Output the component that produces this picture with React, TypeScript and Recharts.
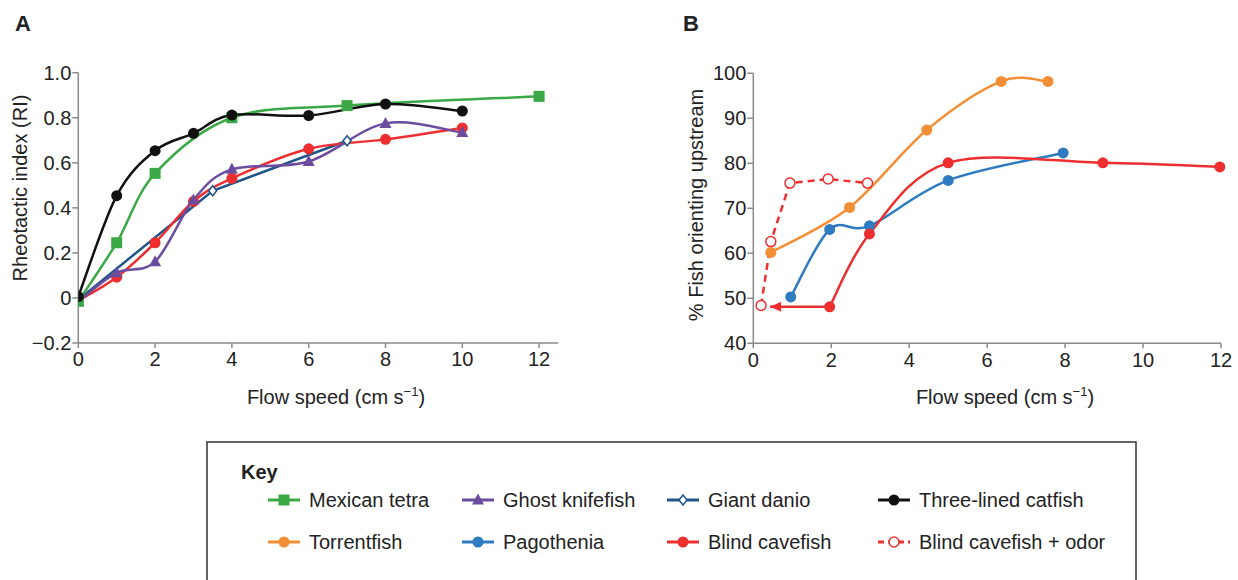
import React from 'react';
import { LineChart, Line, XAxis, YAxis } from 'recharts';

// ---------- Data ----------
// Panel A: Rheotactic index vs flow speed
const mexicanTetra = [
  { x: 0, y: -0.015 }, { x: 1, y: 0.245 }, { x: 2, y: 0.553 }, { x: 4, y: 0.80 },
  { x: 7, y: 0.854 }, { x: 12, y: 0.895 },
];
const ghostKnifefish = [
  { x: 0, y: -0.016 }, { x: 1, y: 0.112 }, { x: 2, y: 0.161 }, { x: 3, y: 0.435 },
  { x: 4, y: 0.571 }, { x: 6, y: 0.606 }, { x: 8, y: 0.775 }, { x: 10, y: 0.734 },
];
const giantDanio = [
  { x: 0, y: -0.008 }, { x: 3.5, y: 0.476 }, { x: 7, y: 0.698 },
];
const threeLinedCatfish = [
  { x: 0, y: 0.006 }, { x: 1, y: 0.454 }, { x: 2, y: 0.654 }, { x: 3, y: 0.731 },
  { x: 4, y: 0.812 }, { x: 6, y: 0.81 }, { x: 8, y: 0.861 }, { x: 10, y: 0.83 },
];
const blindCavefishA = [
  { x: 0, y: -0.012 }, { x: 1, y: 0.092 }, { x: 2, y: 0.245 }, { x: 3, y: 0.429 },
  { x: 4, y: 0.531 }, { x: 6, y: 0.662 }, { x: 8, y: 0.704 }, { x: 10, y: 0.755 },
];

// Panel B: % fish orienting upstream vs flow speed
const torrentfish = [
  { x: 0.45, y: 60.2 }, { x: 2.47, y: 70.2 }, { x: 4.45, y: 87.4 }, { x: 6.36, y: 98.2 }, { x: 7.56, y: 98.2 },
];
const pagothenia = [
  { x: 0.96, y: 50.3 }, { x: 1.96, y: 65.3 }, { x: 2.98, y: 66.1 }, { x: 5, y: 76.2 }, { x: 7.95, y: 82.3 },
];
const blindCavefishB = [
  { x: 1.96, y: 48.1 }, { x: 2.98, y: 64.3 }, { x: 5, y: 80.1 }, { x: 8.97, y: 80.1 }, { x: 11.97, y: 79.2 },
];
const blindCavefishArrow = [
  { x: 0.43, y: 48.1 }, { x: 1.96, y: 48.1 },
];
const blindCavefishOdor = [
  { x: 0.2, y: 48.4 }, { x: 0.45, y: 62.6 }, { x: 0.94, y: 75.6 }, { x: 1.92, y: 76.5 }, { x: 2.93, y: 75.6 },
];

const ticksAX = [0, 2, 4, 6, 8, 10, 12];
const ticksAY = [-0.2, 0, 0.2, 0.4, 0.6, 0.8, 1.0];
const ticksBX = [0, 2, 4, 6, 8, 10, 12];
const ticksBY = [40, 50, 60, 70, 80, 90, 100];

const C = {
  green: '#3aa845',
  purple: '#6b4c9f',
  danio: '#1f5588',
  black: '#111111',
  orange: '#f28e35',
  blue: '#2e7bc1',
  red: '#ee2e2f',
};

const legendRow1 = [
  { name: 'Mexican tetra', color: C.green, shape: 'square', dashed: false },
  { name: 'Ghost knifefish', color: C.purple, shape: 'triangle', dashed: false },
  { name: 'Giant danio', color: C.danio, shape: 'diamond', dashed: false },
  { name: 'Three-lined catfish', color: C.black, shape: 'circle', dashed: false },
];
const legendRow2 = [
  { name: 'Torrentfish', color: C.orange, shape: 'circle', dashed: false },
  { name: 'Pagothenia', color: C.blue, shape: 'circle', dashed: false },
  { name: 'Blind cavefish', color: C.red, shape: 'circle', dashed: false },
  { name: 'Blind cavefish + odor', color: C.red, shape: 'open', dashed: true },
];

// ---------- Helpers ----------
const FONT = "'Liberation Sans', Arial, sans-serif";
const TEXT = '#222';
const AXIS = '#8a8a8a';

// Excel-like smoothing (Catmull-Rom style Bezier)
function smoothCurve(context: any) {
  let xs: number[] = [];
  let ys: number[] = [];
  return {
    areaStart() {},
    areaEnd() {},
    lineStart() { xs = []; ys = []; },
    point(x: number, y: number) { xs.push(+x); ys.push(+y); },
    lineEnd() {
      const n = xs.length;
      if (!n) return;
      context.moveTo(xs[0], ys[0]);
      for (let i = 0; i < n - 1; i++) {
        const x0 = i > 0 ? xs[i - 1] : xs[i];
        const y0 = i > 0 ? ys[i - 1] : ys[i];
        const x3 = i + 2 < n ? xs[i + 2] : xs[i + 1];
        const y3 = i + 2 < n ? ys[i + 2] : ys[i + 1];
        const c1x = xs[i] + (xs[i + 1] - x0) / 6;
        const c1y = ys[i] + (ys[i + 1] - y0) / 6;
        const c2x = xs[i + 1] - (x3 - xs[i]) / 6;
        const c2y = ys[i + 1] - (y3 - ys[i]) / 6;
        context.bezierCurveTo(c1x, c1y, c2x, c2y, xs[i + 1], ys[i + 1]);
      }
    },
  };
}

function Marker({ shape, cx, cy, color }: any) {
  if (shape === 'square') return <rect x={cx - 5.5} y={cy - 5.5} width={11} height={11} fill={color} />;
  if (shape === 'triangle')
    return <polygon points={`${cx},${cy - 6.5} ${cx + 6},${cy + 4.5} ${cx - 6},${cy + 4.5}`} fill={color} />;
  if (shape === 'diamond')
    return <polygon points={`${cx},${cy - 5} ${cx + 4},${cy} ${cx},${cy + 5} ${cx - 4},${cy}`} fill="#fff" stroke={color} strokeWidth={1.5} />;
  if (shape === 'open') return <circle cx={cx} cy={cy} r={5} fill="#fff" stroke={color} strokeWidth={1.5} />;
  return <circle cx={cx} cy={cy} r={5.5} fill={color} />;
}

const dotFn = (shape: string, color: string) => (p: any) => (
  <g key={`d-${shape}-${color}-${p.index}`}>
    <Marker shape={shape} cx={p.cx} cy={p.cy} color={color} />
  </g>
);

const arrowDot = (p: any) =>
  p.index === 0 ? (
    <polygon key={`arrow-${p.index}`} points={`${p.cx},${p.cy} ${p.cx + 11},${p.cy - 5} ${p.cx + 11},${p.cy + 5}`} fill={C.red} />
  ) : (
    <g key={`arrow-${p.index}`} />
  );

const fmtA = (v: number) => (v === 0 ? '0' : (v < 0 ? '\u2212' : '') + Math.abs(v).toFixed(1));

const tickStyle = { fontSize: 20, fill: TEXT, fontFamily: FONT };

export default function App() {
  return (
    <div style={{ position: 'absolute', left: 0, top: 0, width: 1238, height: 580, background: '#fff', fontFamily: FONT }}>
      <div style={{ position: 'absolute', left: 0, top: 0 }}>
        <LineChart width={600} height={420} margin={{ top: 72.7, right: 41.7, bottom: 47, left: 18.3 }}>
          <XAxis
            type="number" dataKey="x" domain={[0, 12.5]} ticks={ticksAX} allowDataOverflow
            stroke={AXIS} strokeWidth={1.5} tickSize={5} tickMargin={4} tick={tickStyle} height={30}
          />
          <YAxis
            type="number" dataKey="y" domain={[-0.2, 1]} ticks={ticksAY} tickFormatter={fmtA}
            stroke={AXIS} strokeWidth={1.5} tickSize={6} tickMargin={1} tick={tickStyle} width={60} interval={0}
          />
          <Line data={giantDanio} dataKey="y" type="linear" stroke={C.danio} strokeWidth={2.5} dot={dotFn('diamond', C.danio)} isAnimationActive={false} />
          <Line data={blindCavefishA} dataKey="y" type={smoothCurve as any} stroke={C.red} strokeWidth={2.5} dot={dotFn('circle', C.red)} isAnimationActive={false} />
          <Line data={ghostKnifefish} dataKey="y" type={smoothCurve as any} stroke={C.purple} strokeWidth={2.5} dot={dotFn('triangle', C.purple)} isAnimationActive={false} />
          <Line data={mexicanTetra} dataKey="y" type={smoothCurve as any} stroke={C.green} strokeWidth={2.5} dot={dotFn('square', C.green)} isAnimationActive={false} />
          <Line data={threeLinedCatfish} dataKey="y" type={smoothCurve as any} stroke={C.black} strokeWidth={2.5} dot={dotFn('circle', C.black)} isAnimationActive={false} />
        </LineChart>
      </div>
      <div style={{ position: 'absolute', left: 620, top: 0 }}>
        <LineChart width={618} height={420} margin={{ top: 73.3, right: 17, bottom: 46.7, left: 73.3 }}>
          <XAxis
            type="number" dataKey="x" domain={[0, 12]} ticks={ticksBX}
            stroke={AXIS} strokeWidth={1.5} tickSize={5} tickMargin={4} tick={tickStyle} height={30}
          />
          <YAxis
            type="number" dataKey="y" domain={[40, 100]} ticks={ticksBY}
            stroke={AXIS} strokeWidth={1.5} tickSize={6} tickMargin={1} tick={tickStyle} width={60} interval={0}
          />
          <Line data={torrentfish} dataKey="y" type={smoothCurve as any} stroke={C.orange} strokeWidth={2.5} dot={dotFn('circle', C.orange)} isAnimationActive={false} />
          <Line data={pagothenia} dataKey="y" type={smoothCurve as any} stroke={C.blue} strokeWidth={2.5} dot={dotFn('circle', C.blue)} isAnimationActive={false} />
          <Line data={blindCavefishArrow} dataKey="y" type="linear" stroke={C.red} strokeWidth={2.5} dot={arrowDot} isAnimationActive={false} />
          <Line data={blindCavefishB} dataKey="y" type={smoothCurve as any} stroke={C.red} strokeWidth={2.5} dot={dotFn('circle', C.red)} isAnimationActive={false} />
          <Line data={blindCavefishOdor} dataKey="y" type="linear" stroke={C.red} strokeWidth={2.5} strokeDasharray="7 5" dot={dotFn('open', C.red)} isAnimationActive={false} />
        </LineChart>
      </div>
      <svg width={1238} height={580} style={{ position: 'absolute', left: 0, top: 0, pointerEvents: 'none' }} fontFamily={FONT}>
        <text x={15} y={31} fontSize={22} fontWeight="bold" fill={TEXT}>A</text>
        <text x={683} y={31} fontSize={22} fontWeight="bold" fill={TEXT}>B</text>
        <text x={336} y={404} fontSize={20} fill={TEXT} textAnchor="middle">
          Flow speed (cm s<tspan dy={-8} fontSize={13}>{'\u22121'}</tspan><tspan dy={8}>)</tspan>
        </text>
        <text x={1005} y={404} fontSize={20} fill={TEXT} textAnchor="middle">
          Flow speed (cm s<tspan dy={-8} fontSize={13}>{'\u22121'}</tspan><tspan dy={8}>)</tspan>
        </text>
        <text x={0} y={0} fontSize={20} fill={TEXT} textAnchor="middle" transform="translate(27,188) rotate(-90)">
          Rheotactic index (RI)
        </text>
        <text x={0} y={0} fontSize={20} fill={TEXT} textAnchor="middle" transform="translate(703,205) rotate(-90)">
          % Fish orienting upstream
        </text>
        <rect x={207} y={442} width={929} height={160} fill="none" stroke="#333" strokeWidth={1.5} />
        <text x={241} y={479} fontSize={20} fontWeight="bold" fill={TEXT}>Key</text>
        {[legendRow1, legendRow2].map((row, ri) =>
          row.map((item, ci) => {
            const colX = [268, 462, 667, 878][ci];
            const cy = ri === 0 ? 500 : 542;
            return (
              <g key={`lg-${ri}-${ci}`}>
                <line x1={colX} y1={cy} x2={colX + 32} y2={cy} stroke={item.color} strokeWidth={3} strokeDasharray={item.dashed ? '6 4' : undefined} />
                <Marker shape={item.shape} cx={colX + 16} cy={cy} color={item.color} />
                <text x={colX + 41} y={cy + 7} fontSize={20} fill={TEXT}>{item.name}</text>
              </g>
            );
          })
        )}
      </svg>
    </div>
  );
}
